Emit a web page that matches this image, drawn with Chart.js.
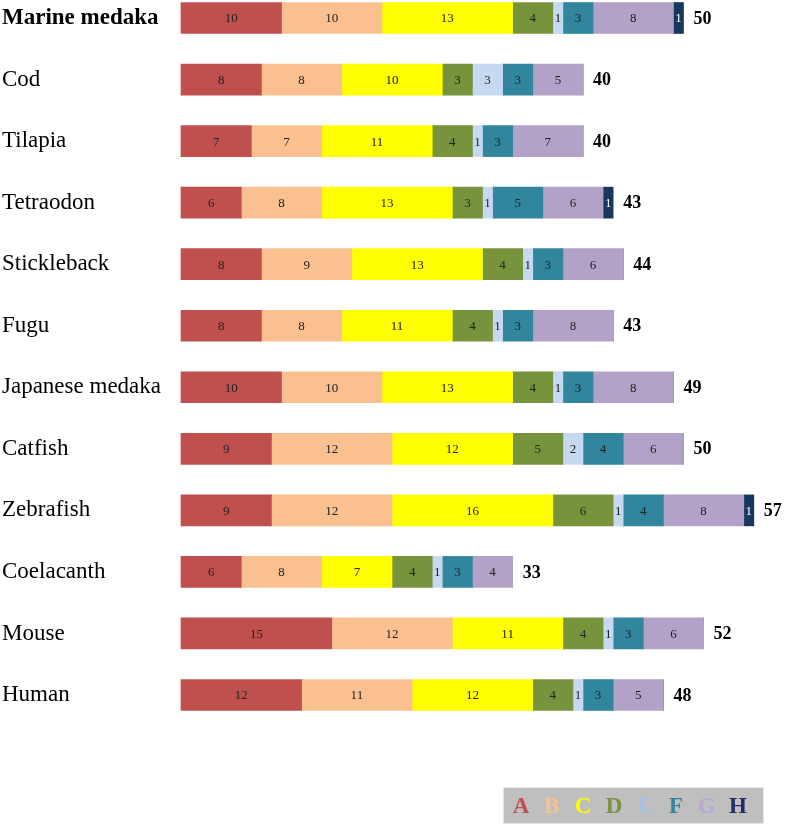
<!DOCTYPE html>
<html>
<head>
<meta charset="utf-8">
<script src="https://cdn.jsdelivr.net/npm/chart.js@4/dist/chart.umd.min.js"></script>
<style>
  html, body { margin: 0; padding: 0; background: #fff; }
  #wrap { position: relative; width: 787px; height: 828px; }
</style>
</head>
<body>
<div id="wrap"><canvas id="myChart" width="787" height="828"></canvas></div>
<script>
const species = ['Marine medaka', 'Cod', 'Tilapia', 'Tetraodon', 'Stickleback', 'Fugu',
  'Japanese medaka', 'Catfish', 'Zebrafish', 'Coelacanth', 'Mouse', 'Human'];

const groupA = [10, 8, 7, 6, 8, 8, 10, 9, 9, 6, 15, 12];
const groupB = [10, 8, 7, 8, 9, 8, 10, 12, 12, 8, 12, 11];
const groupC = [13, 10, 11, 13, 13, 11, 13, 12, 16, 7, 11, 12];
const groupD = [4, 3, 4, 3, 4, 4, 4, 5, 6, 4, 4, 4];
const groupE = [1, 3, 1, 1, 1, 1, 1, 2, 1, 1, 1, 1];
const groupF = [3, 3, 3, 5, 3, 3, 3, 4, 4, 3, 3, 3];
const groupG = [8, 5, 7, 6, 6, 8, 8, 6, 8, 4, 6, 5];
const groupH = [1, 0, 0, 1, 0, 0, 0, 0, 1, 0, 0, 0];

const groupNames = ['A', 'B', 'C', 'D', 'E', 'F', 'G', 'H'];
const groupColors = ['#C0504D', '#FAC090', '#FFFF00', '#77933C', '#C6D9F1', '#31859C', '#B3A2C7', '#17375E'];
const legendColors = ['#C0504D', '#FAC090', '#FFFF00', '#77933C', '#A7C0E0', '#31859C', '#B8A8D0', '#1F2D6B'];

const allGroups = [groupA, groupB, groupC, groupD, groupE, groupF, groupG, groupH];
const totals = species.map((s, i) => allGroups.reduce((sum, g) => sum + g[i], 0));

const serif = '"Liberation Serif", "Times New Roman", serif';

// numbers inside segments + totals at bar end
const barLabels = {
  id: 'barLabels',
  afterDatasetsDraw(chart) {
    const ctx = chart.ctx;
    ctx.save();
    ctx.textBaseline = 'middle';
    ctx.textAlign = 'center';
    ctx.font = '13px ' + serif;
    chart.data.datasets.forEach((ds, di) => {
      const meta = chart.getDatasetMeta(di);
      meta.data.forEach((bar, i) => {
        const v = ds.data[i];
        if (!v) return;
        const x = (bar.x + bar.base) / 2;
        ctx.fillStyle = di === 7 ? '#ffffff' : '#222222';
        ctx.fillText(v, x, bar.y + 1);
      });
    });
    const last = chart.getDatasetMeta(chart.data.datasets.length - 1);
    ctx.textAlign = 'left';
    ctx.font = 'bold 18px ' + serif;
    ctx.fillStyle = '#000';
    last.data.forEach((bar, i) => {
      const xEnd = chart.scales.x.getPixelForValue(totals[i]);
      ctx.fillText(totals[i], xEnd + 10, bar.y + 1);
    });
    ctx.restore();
  }
};

// grey box legend at bottom right
const letterLegend = {
  id: 'letterLegend',
  afterDraw(chart) {
    const ctx = chart.ctx;
    ctx.save();
    ctx.fillStyle = '#BFBFBF';
    ctx.fillRect(503, 787, 261, 37);
    ctx.strokeStyle = '#e6e6e6';
    ctx.lineWidth = 1;
    ctx.strokeRect(503.5, 787.5, 260, 36);
    ctx.font = 'bold 23px ' + serif;
    ctx.textAlign = 'center';
    ctx.textBaseline = 'middle';
    groupNames.forEach((n, i) => {
      ctx.fillStyle = legendColors[i];
      ctx.fillText(n, 521 + i * 31, 807);
    });
    ctx.restore();
  }
};

new Chart(document.getElementById('myChart').getContext('2d'), {
  type: 'bar',
  data: {
    labels: species,
    datasets: allGroups.map((g, i) => ({
      label: groupNames[i],
      data: g,
      backgroundColor: groupColors[i],
      borderWidth: 0,
      barThickness: 31,
      clip: false
    }))
  },
  options: {
    indexAxis: 'y',
    responsive: false,
    animation: false,
    layout: {
      padding: { top: 18, bottom: 133, left: 2, right: 3 }
    },
    scales: {
      x: {
        stacked: true,
        display: false,
        min: 0,
        max: 60
      },
      y: {
        stacked: true,
        offset: false,
        grid: { display: false },
        border: { display: false },
        afterFit(scale) { scale.width = 179; },
        ticks: {
          crossAlign: 'far',
          color: '#000',
          font: (c) => ({ family: serif, size: 23, weight: c.index === 0 ? 'bold' : 'normal' })
        }
      }
    },
    plugins: {
      legend: { display: false },
      tooltip: { enabled: false }
    }
  },
  plugins: [barLabels, letterLegend]
});
</script>
</body>
</html>
